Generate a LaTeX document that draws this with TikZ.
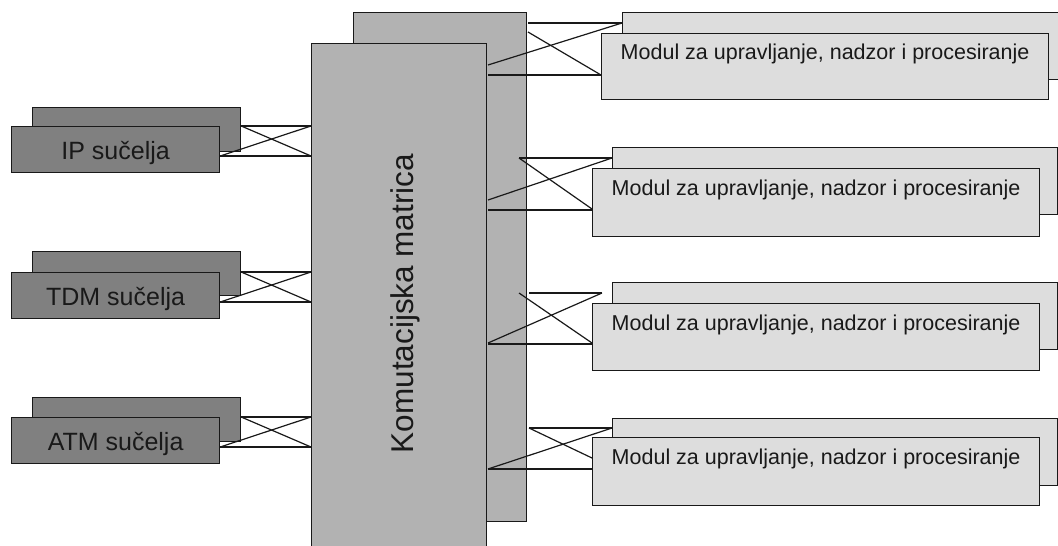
\documentclass[tikz,border=0pt]{standalone}
\usepackage{fontspec}
\setmainfont{Liberation Sans}
\usetikzlibrary{calc}

\definecolor{ifgray}{RGB}{128,128,128}
\definecolor{mxgray}{RGB}{178,178,178}
\definecolor{modgray}{RGB}{221,221,221}
\definecolor{edge}{RGB}{25,25,25}

\begin{document}
\begin{tikzpicture}[x=1pt,y=-1pt,
    box/.style={draw=edge,line width=1.2pt,anchor=north west,inner sep=0pt,text=edge},
    ifback/.style={box,fill=ifgray,minimum width=208pt,minimum height=44pt},
    iffront/.style={ifback,minimum height=46pt,font=\fontsize{25}{30}\selectfont,
        text height=23pt,text depth=3pt},
    mxbox/.style={box,fill=mxgray},
    modback/.style={box,fill=modgray,minimum width=445pt,minimum height=67pt},
    modfront/.style={modback,minimum width=447pt,font=\fontsize{21.5}{26}\selectfont,
        text height=16pt,text depth=30pt},
    wire/.style={draw=edge,line width=1.2pt}]
    \clip (0,0) rectangle (1058,546);

    % interfaces on the left
    \node[ifback] (ipB) at (32,107) {};
    \node[iffront] (ipF) at (11,126) {IP sučelja};
    \node[ifback] (tdmB) at (32,251) {};
    \node[iffront] (tdmF) at (11,272) {TDM sučelja};
    \node[ifback] (atmB) at (32,397) {};
    \node[iffront] (atmF) at (11,417) {ATM sučelja};

    % switching matrix
    \node[mxbox,minimum width=173pt,minimum height=509pt] (mxB) at (353,12) {};
    \node[mxbox,minimum width=175pt,minimum height=520pt] (mxF) at (311,43) {};
    \node[rotate=90,anchor=base,text=edge,font=\fontsize{31.5}{38}\selectfont]
        (mxtext) at ($(mxF.west)+(102,0)$) {Komutacijska matrica};

    % modules on the right
    \node[modback] (m1B) at (622,12) {};
    \node[modfront,minimum height=66pt] (m1F) at (601,33) {Modul za upravljanje, nadzor i procesiranje};
    \node[modback] (m2B) at (612,147) {};
    \node[modfront,minimum height=68pt] (m2F) at (592,168) {Modul za upravljanje, nadzor i procesiranje};
    \node[modback] (m3B) at (612,282) {};
    \node[modfront] (m3F) at (592,303) {Modul za upravljanje, nadzor i procesiranje};
    \node[modback] (m4B) at (612,418) {};
    \node[modfront,minimum height=68pt] (m4F) at (592,437) {Modul za upravljanje, nadzor i procesiranje};

    % crossed links interfaces -> matrix
    \foreach \s in {ip,tdm,atm}{
        \coordinate (\s-lo) at ($(\s F.north east)+(0,30)$);
        \draw[wire] (\s B.east |- \s F.north) -- (mxF.west |- \s F.north);
        \draw[wire] (\s-lo) -- (mxF.west |- \s-lo);
        \draw[wire] (\s B.east |- \s F.north) -- (mxF.west |- \s-lo);
        \draw[wire] (\s-lo) -- (mxF.west |- \s F.north);
    }

    % crossed links matrix -> modules
    \foreach \m/\tx/\ty/\dx/\dy/\uy/\by/\ey/\gap in
        {1/528/23/528/32/65/75/75/0, 2/519/158/519/158/200/210/209/0,
         3/529/293/519/293/343/344/343/10, 4/529/428/529/428/469/469/458/0}{
        \coordinate (m\m-t) at (\tx,\ty);
        \coordinate (m\m-d) at (\dx,\dy);
        \coordinate (m\m-u) at (488,\uy);
        \coordinate (m\m-b) at (488,\by);
        \coordinate (m\m-e) at ($(m\m B.west |- m\m-t)+(-\gap,0)$);
        \draw[wire] (m\m-t) -- (m\m-e);
        \draw[wire] (m\m-d) -- (m\m F.west |- 0,\ey);
        \draw[wire] (m\m-u) -- (m\m-e);
        \draw[wire] (m\m-b) -- (m\m F.west |- m\m-b);
    }
\end{tikzpicture}
\end{document}
